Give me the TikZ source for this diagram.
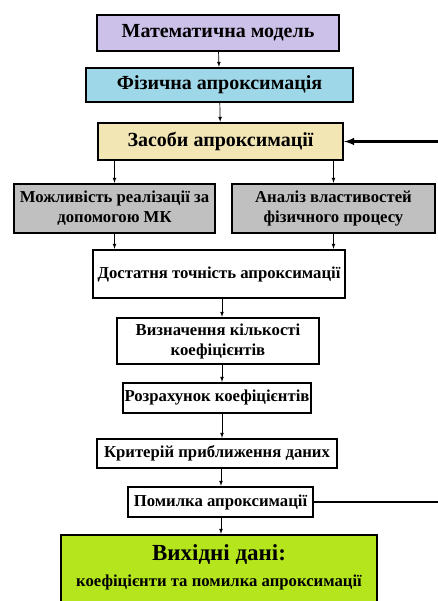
\documentclass[tikz,border=0pt]{standalone}
\usepackage{fontspec}
\setmainfont{Liberation Serif}
\definecolor{lavender}{HTML}{CCC1E8}
\definecolor{skyblue}{HTML}{9ED8E8}
\definecolor{sand}{HTML}{F2E6B5}
\definecolor{boxgray}{HTML}{C0C0C0}
\definecolor{limegreen}{HTML}{B5E61D}
\begin{document}
\begin{tikzpicture}[x=1pt,y=-1pt]
          \tikzstyle{block}=[rectangle,draw=black,line width=2.4pt,inner sep=0pt,align=center,
                             font=\fontsize{16.7}{20}\selectfont\bfseries]
          \tikzstyle{bigblock}=[block,font=\fontsize{20}{23}\selectfont\bfseries]
          \tikzstyle{edge}=[draw,line width=0.7pt,-latex]
          \useasboundingbox (0,0) rectangle (437,601);
          \begin{scope}
              \node [bigblock,fill=lavender,minimum width=242pt,minimum height=36pt] (b1) at (218,33) {Математична модель};
              \node [bigblock,fill=skyblue,minimum width=267pt,minimum height=34pt] (b2) at (219.5,85) {Фізична апроксимація};
              \node [bigblock,fill=sand,minimum width=245pt,minimum height=37pt] (b3) at (220.5,141.5) {Засоби апроксимації};
              \node [block,fill=boxgray,minimum width=201pt,minimum height=49pt] (b4) at (114.5,208.5) {Можливість реалізації за\\допомогою МК};
              \node [block,fill=boxgray,minimum width=203pt,minimum height=49pt] (b5) at (333.5,208.5) {Аналіз властивостей\\фізичного процесу};
              \node [block,fill=white,minimum width=252pt,minimum height=48pt] (b6) at (219,274) {Достатня точність апроксимації};
              \node [block,fill=white,minimum width=202pt,minimum height=46pt] (b7) at (218,341) {Визначення кількості\\коефіцієнтів};
              \node [block,fill=white,minimum width=188pt,minimum height=30pt] (b8) at (217,398) {Розрахунок коефіцієнтів};
              \node [block,fill=white,minimum width=240pt,minimum height=29pt] (b9) at (217,453.5) {Критерій приближення даних};
              \node [block,fill=white,minimum width=185pt,minimum height=30pt] (b10) at (220.5,502) {Помилка апроксимації};
              \node [block,fill=limegreen,minimum width=316pt,minimum height=80pt] (b11) at (219,575) {};
              \node [font=\fontsize{23}{26}\selectfont\bfseries] (t1) at (b11.center|-0,555) {Вихідні дані:};
              \node [font=\fontsize{16.7}{20}\selectfont\bfseries] (t2) at (b11.center|-0,582) {коефіцієнти та помилка апроксимації};
              \coordinate (c1) at (448,502);
              \coordinate (c2) at (448,141.5);
              \path[edge] (b1) -- (b2);
              \path[edge] (b2) -- (b3);
              \path[edge] (b3.south-|b4) -- (b4);
              \path[edge] (b3.south-|b5) -- (b5);
              \path[edge] (b4.south-|b4) -- (b6.north-|b4);
              \path[edge] (b5.south-|b5) -- (b6.north-|b5);
              \path[edge] (b6.south-|222,0) -- (b7.north-|222,0);
              \path[edge] (b7.south-|222,0) -- (b8.north-|222,0);
              \path[edge] (b8.south-|222,0) -- (b9.north-|222,0);
              \path[edge] (b9.south-|221,0) -- (b10.north-|221,0);
              \path[edge] (b10.south-|221,0) -- (b11.north-|221,0);
              \draw[line width=2.4pt,-latex] (b10.east) -- (c1) -- (c2) -- (b3.east);
          \end{scope}
        \end{tikzpicture}
\end{document}
